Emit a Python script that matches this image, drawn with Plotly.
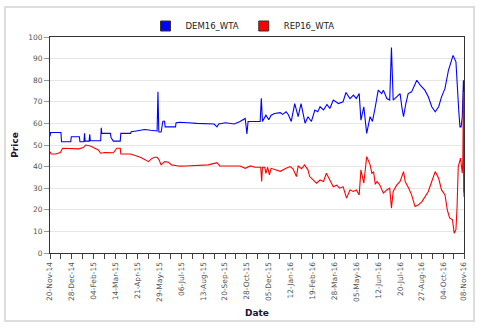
import plotly.graph_objects as go
import pandas as pd

START_DATE = "2014-11-20"

dem_days = [0, 1, 19, 20, 36, 37, 51, 52, 59, 60, 61, 68, 69, 70, 88, 89, 90, 105, 106, 110, 122, 123, 140, 141, 150, 164, 175, 182, 186, 187.5, 189, 193, 196, 199, 200, 218, 219, 225, 232, 240, 255, 270, 285, 290, 293, 305, 320, 330, 339, 342, 344, 355, 365, 367, 369, 375, 380, 384, 390, 400, 404, 410, 414, 419, 425, 431, 436, 443, 448, 454, 460, 465, 469, 475, 481, 486, 492, 501, 509, 514, 521, 527, 532, 537, 540, 545, 550, 556, 560, 565, 570, 576, 579, 585, 590, 593, 596, 602, 608, 611, 614, 618, 622, 628, 634, 637, 643, 651, 657, 663, 669, 675, 680, 686, 692, 698, 700, 705, 707, 710, 712, 714, 716, 718, 719]
dem_vals = [54, 55.8, 55.8, 51.5, 51.5, 53.8, 53.8, 51.5, 51.5, 55.4, 51.8, 51.8, 55, 52, 52, 58, 55.4, 55.4, 53.5, 51.8, 51.8, 55.4, 55.4, 56.1, 56.5, 57.2, 56.8, 56.5, 56.5, 74.6, 56, 56, 61, 61, 58.4, 58.4, 60.3, 60.5, 60.3, 60.3, 60, 59.7, 59.7, 58.4, 59.7, 60.3, 59.7, 60.9, 62.3, 55.1, 60.9, 60.9, 60.9, 71.6, 60.9, 63.8, 61.7, 63.8, 64.6, 65, 64.2, 65.4, 64, 60.9, 69.2, 63.1, 69.2, 60.1, 63.1, 60.9, 66.2, 65.4, 67.7, 66.2, 68.8, 66.9, 70.8, 69.2, 70, 74.3, 71.5, 73.1, 71.5, 73.8, 61.5, 67.7, 55.4, 63.1, 60.9, 67.7, 75.4, 73.8, 75.4, 71.5, 70.8, 95.1, 70.8, 72.3, 73.8, 67.7, 63.1, 69.2, 73.8, 74.6, 78.5, 80, 77.7, 75.4, 72.3, 67.7, 65.4, 67.7, 72.3, 76.2, 84.6, 89.2, 91.5, 88.5, 76.9, 65.4, 58.4, 58.4, 63.1, 80, 28]

rep_days = [0, 2, 10, 18, 22, 35, 50, 58, 62, 70, 78, 84, 88, 95, 110, 116, 122, 123, 140, 146, 157, 166, 171, 177, 182, 186, 189, 193, 199, 206, 211, 218, 225, 235, 245, 260, 275, 290, 295, 310, 330, 339, 348, 356, 366, 367.6, 369, 373, 375, 378, 381, 384, 392, 400, 410, 417, 422, 428, 431, 437, 442, 448, 451, 457, 463, 469, 475, 480, 486, 492, 498, 503, 509, 515, 521, 527, 532, 537, 540, 545, 550, 553, 556, 559, 562, 565, 568, 573, 579, 585, 590, 593, 596, 602, 608, 614, 617, 623, 628, 634, 640, 646, 651, 657, 663, 669, 675, 680, 686, 690, 694, 699, 702, 705, 707, 709, 713, 716, 717, 718, 719]
rep_vals = [46.9, 45.8, 45.8, 46.5, 48.5, 48.5, 48.2, 48.8, 50, 49.5, 48.5, 47.7, 46.2, 46.5, 46.4, 48.5, 48.5, 45.8, 45.8, 45.3, 44.3, 43.1, 42.3, 43.8, 44.3, 44.3, 43.4, 40.8, 42.3, 42, 40.8, 40.5, 40.2, 40.3, 40.5, 40.8, 40.8, 41.8, 40.3, 40.3, 40.3, 39.2, 40.3, 39.7, 39.7, 33.1, 39.7, 39.7, 36.9, 39.7, 36.2, 39.2, 38.5, 37.8, 39.2, 40, 39, 35.4, 40.3, 39, 40.8, 38.5, 35.4, 33.8, 32.3, 33.8, 33.1, 36.9, 33.8, 30.7, 31.4, 30, 30.7, 25.4, 29.2, 28.5, 29.2, 26.9, 38.5, 32.3, 44.6, 42.3, 40.8, 36.9, 37.5, 31.8, 33.1, 31.4, 27.7, 29.2, 30, 20.8, 28.5, 31.4, 33.1, 37.7, 33, 30, 26.9, 21.5, 22.3, 23.8, 26.1, 28.5, 33.1, 37.7, 34.6, 29.2, 26.9, 20, 16.2, 15.4, 9.2, 10.8, 21.5, 40, 43.9, 36.9, 43, 74.6, 26]

tick_labels = ["20-Nov-14", "28-Dec-14", "04-Feb-15", "14-Mar-15", "21-Apr-15", "29-May-15",
               "06-Jul-15", "13-Aug-15", "20-Sep-15", "28-Oct-15", "05-Dec-15", "12-Jan-16",
               "19-Feb-16", "28-Mar-16", "05-May-16", "12-Jun-16", "20-Jul-16", "27-Aug-16",
               "04-Oct-16", "08-Nov-16"]

start = pd.Timestamp(START_DATE)
dem_x = [start + pd.Timedelta(days=d) for d in dem_days]
rep_x = [start + pd.Timedelta(days=d) for d in rep_days]
tick_x = [pd.to_datetime(t, format="%d-%b-%y") for t in tick_labels]
minor_x = [tick_x[i] + (tick_x[i + 1] - tick_x[i]) / 2 for i in range(len(tick_x) - 1)]

FONT = "DejaVu Sans"

fig = go.Figure()
fig.add_trace(go.Scatter(x=dem_x, y=dem_vals, mode="lines", name="DEM16_WTA",
                         line=dict(color="#0000FF", width=1.1), showlegend=False))
fig.add_trace(go.Scatter(x=rep_x, y=rep_vals, mode="lines", name="REP16_WTA",
                         line=dict(color="#FF0000", width=1.1), showlegend=False))
# legend entries (square swatches)
fig.add_trace(go.Scatter(x=[None], y=[None], mode="markers", name="DEM16_WTA",
                         marker=dict(symbol="square", size=10, color="#0000FF",
                                     line=dict(color="#333333", width=1))))
fig.add_trace(go.Scatter(x=[None], y=[None], mode="markers", name="REP16_WTA",
                         marker=dict(symbol="square", size=10, color="#FF0000",
                                     line=dict(color="#333333", width=1))))

L, R, T, B = 50, 21, 37, 75
W, H = 485, 328
pw, ph = W - L - R, H - T - B

def px(x):
    return (x - L) / pw

def py(y):
    return (H - B - y) / ph

fig.add_shape(type="rect", xref="paper", yref="paper",
              x0=px(5), x1=px(474), y0=py(321), y1=py(7),
              line=dict(color="#DDDDDD", width=2), layer="below")

fig.update_layout(
    width=W, height=H,
    margin=dict(l=L, r=R, t=T, b=B, pad=0, autoexpand=False),
    paper_bgcolor="white", plot_bgcolor="white",
    font=dict(family=FONT, size=8, color="#333333"),
    showlegend=True,
    legend=dict(orientation="h", x=0.465, xanchor="center", y=py(26), yanchor="middle",
                font=dict(family=FONT, size=8.5, color="#222222"),
                itemwidth=30, tracegroupgap=0, bgcolor="rgba(0,0,0,0)"),
    xaxis=dict(
        type="date", automargin=False,
        range=[tick_x[0], tick_x[-1]],
        tickvals=tick_x, ticktext=tick_labels, tickangle=-90,
        ticks="outside", ticklen=5, tickcolor="#444444", tickwidth=1,
        minor=dict(tickvals=minor_x, ticks="outside", ticklen=5, tickcolor="#444444", showgrid=False),
        showgrid=False, showline=True, linecolor="#333333", linewidth=1, mirror=True,
        tickfont=dict(family=FONT, size=7.5, color="#555555"),
        title=dict(text="<b>Date</b>", font=dict(family=FONT, size=9, color="#221133"), standoff=8),
        zeroline=False,
    ),
    yaxis=dict(
        range=[0, 100], dtick=10, automargin=False,
        ticks="outside", ticklen=5, tickcolor="#999999",
        showgrid=True, gridcolor="#E6E6E6", gridwidth=1,
        showline=True, linecolor="#333333", linewidth=1, mirror=True,
        tickfont=dict(family=FONT, size=7.5, color="#555555"),
        title=dict(text="<b>Price</b>", font=dict(family=FONT, size=9, color="#221133"), standoff=8),
        zeroline=False,
    ),
)

fig.write_html("out.html")
